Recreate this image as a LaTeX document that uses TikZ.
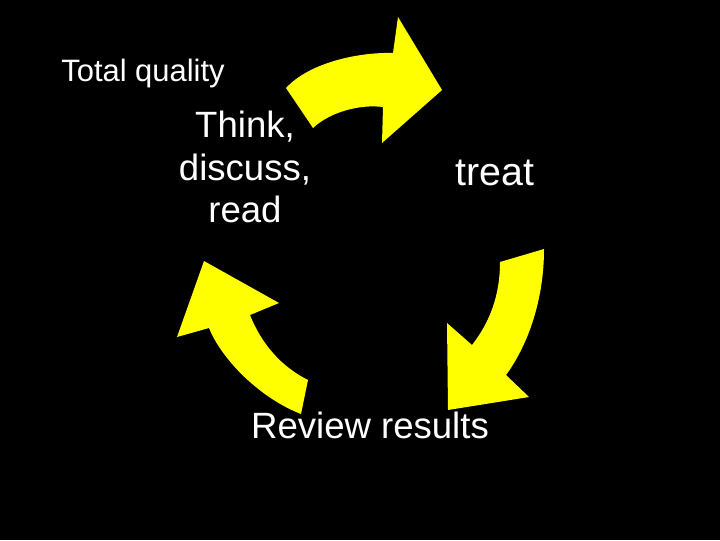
\documentclass[tikz,border=0pt]{standalone}
\usepackage{fontspec}
\setmainfont{Liberation Sans}
\begin{document}
\begin{tikzpicture}[x=0.025cm, y=-0.025cm]

    % colours of the slide
    \definecolor{Slide}{RGB}{0, 0, 0}
    \definecolor{Cycle}{RGB}{255, 255, 0}
    \tikzset{
        label/.style={text=white, inner sep=0pt, font=\fontsize{26}{30}\selectfont},
        bend arrow/.style={fill=Cycle}
    }

    % background (fixes the page size)
    \fill[Slide] (0,0) rectangle (720,540);

    % curved arrows of the cycle
    \fill[bend arrow] (286,88) -- (313,128) .. controls (330,112) and (360,104) .. (383,107)
        -- (382,143) -- (442,90) -- (398,17) -- (393,53)
        .. controls (360,52) and (310,62) .. (286,88) -- cycle;
    \fill[bend arrow] (544,249) -- (500,262) .. controls (500,295) and (490,322) .. (472,345)
        -- (447,323) -- (448,410) -- (529,397) -- (506,375)
        .. controls (528,345) and (544,300) .. (544,249) -- cycle;
    \fill[bend arrow] (204,261) -- (279,303) -- (250,315) .. controls (262,345) and (282,367) .. (308,380)
        -- (301,414) .. controls (260,398) and (222,360) .. (209,328)
        -- (177,337) -- cycle;

    % labels
    \node[label, font=\fontsize{22}{26}\selectfont, anchor=base] (quality) at (143,81) {Total quality};
    \node[label, align=center] (think) at (245,167) {Think,\\discuss,\\read};
    \node[label, font=\fontsize{28}{32}\selectfont, anchor=base] (treat) at (495,185) {treat};
    \node[label, anchor=base] (review) at (370,438) {Review results};

\end{tikzpicture}
\end{document}
